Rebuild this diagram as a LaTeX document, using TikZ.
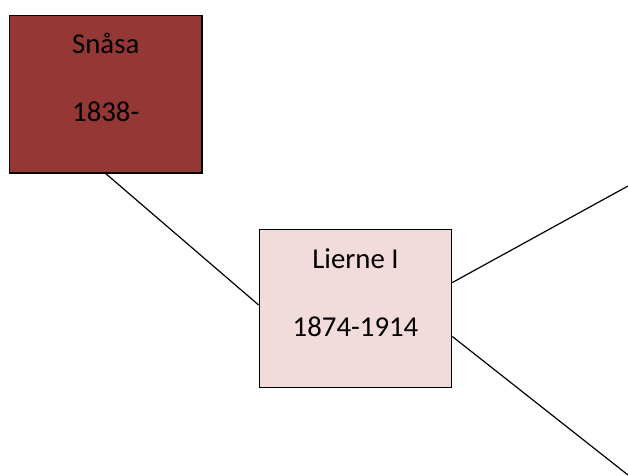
\documentclass[tikz,border=0pt]{standalone}
\usepackage{fontspec}
\setmainfont{Carlito}
\definecolor{darkred}{HTML}{953735}
\definecolor{lightpink}{HTML}{F2DCDB}
\tikzset{
  place/.style={draw=black, line width=1.2pt, minimum width=192.5pt, minimum height=157.5pt, inner sep=0pt},
  placetext/.style={anchor=base, inner sep=0pt, font=\fontsize{28.8}{34}\selectfont},
  link/.style={line width=1.2pt}
}
\begin{document}
\begin{tikzpicture}[x=1pt, y=-1pt]
\useasboundingbox (0,0) rectangle (628,475);
\node[place, fill=darkred] (snasa) at (105.75,94.25) {};
\node[place, fill=lightpink] (lierne) at (355.5,308.5) {};
\node[placetext] (snasa name) at ([yshift=-38.5pt]snasa.north) {Snåsa};
\node[placetext] (snasa year) at ([yshift=-106.5pt]snasa.north) {1838-};
\node[placetext] (lierne name) at ([yshift=-39pt]lierne.north) {Lierne I};
\node[placetext] (lierne year) at ([yshift=-107pt]lierne.north) {1874-1914};
\coordinate (NE) at (628,186); %%TopRight
\coordinate (SE) at (628,475); %%BottomRight
\draw[link] (snasa.south) -- ([yshift=3.5pt]lierne.west);
\draw[link] ([yshift=26pt]lierne.east) -- (NE);
\draw[link] ([yshift=-28pt]lierne.east) -- (SE);
\end{tikzpicture}
\end{document}
